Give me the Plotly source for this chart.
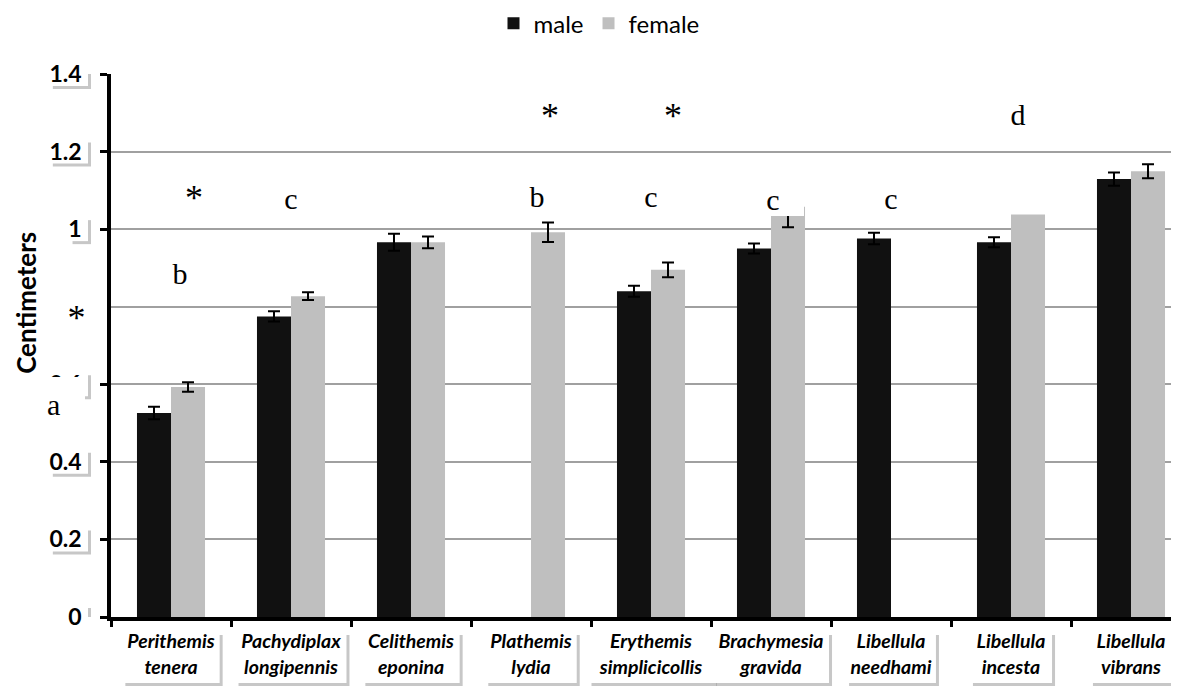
import plotly.graph_objects as go

# ---- data ----
species = ["Perithemis<br>tenera", "Pachydiplax<br>longipennis", "Celithemis<br>eponina",
           "Plathemis<br>lydia", "Erythemis<br>simplicicollis", "Brachymesia<br>gravida",
           "Libellula<br>needhami", "Libellula<br>incesta", "Libellula<br>vibrans"]
male = [0.526, 0.775, 0.966, None, 0.840, 0.950, 0.976, 0.966, 1.129]
male_err = [0.016, 0.013, 0.022, "NaN", 0.014, 0.013, 0.015, 0.013, 0.017]
female = [0.593, 0.827, 0.966, 0.992, 0.895, 1.058, None, 1.038, 1.149]
female_err = [0.012, 0.010, 0.015, 0.025, 0.019, 0.053, "NaN", "NaN", 0.018]
y_ticks = [0, 0.2, 0.4, 0.6, 0.8, 1.0, 1.2, 1.4]
y_title = "Centimeters"

# significance letters (text only)
sig_text = ["*", "b", "c", "*", "b", "*", "c", "c", "c", "d"]
# their placement (style): category index, value axis
sig_x = [0.194, 0.075, 0.998, 3.158, 3.05, 4.186, 3.998, 5.014, 5.998, 7.058]
sig_y = [1.081, 0.887, 1.080, 1.292, 1.085, 1.292, 1.085, 1.078, 1.080, 1.297]
# letters placed on top of the y tick labels (left of the axis)
left_text = ["*", "a"]
left_x = [-0.0323, -0.0435]
left_y = [0.776, 0.560]
left_w = [57, 36]
left_h = [44, 42]
left_align = ["center", "left"]

# ---- figure geometry (page has an 8px body margin) ----
FIG_W, FIG_H = 1171, 679
M_L, M_R, M_T, M_B = 103, 0, 66, 70
PLOT_W = FIG_W - M_L - M_R
PLOT_H = FIG_H - M_T - M_B
Y_MAX = 1.4
X_RANGE = [-0.5, 8.4]


def text_px(s, size):
    """rough width of a string in px (for the label boxes)"""
    w = 0.0
    for ch in s:
        if ch in "iljtfr.":
            w += 0.30
        elif ch in "mw":
            w += 0.78
        else:
            w += 0.52
    return w * size


fig = go.Figure()
fig.add_trace(go.Bar(
    name="male", x=species, y=male, marker=dict(color="#111111", line=dict(width=0)),
    error_y=dict(type="data", array=male_err, color="black", thickness=2, width=6, visible=True),
))
fig.add_trace(go.Bar(
    name="female", x=species, y=female, marker=dict(color="#bfbfbf", line=dict(width=0)),
    error_y=dict(type="data", array=female_err, color="black", thickness=2, width=6, visible=True),
))

# ---- label boxes with drop shadows (decoration behind the tick labels) ----
shapes = []
y_per_px = Y_MAX / PLOT_H
paper_per_px_x = 1.0 / PLOT_W
x_per_px = (X_RANGE[1] - X_RANGE[0]) / PLOT_W
paper_per_px_y = 1.0 / PLOT_H
SH = 3  # shadow offset px
SHADOW = "rgba(0,0,0,0.22)"
for v in y_ticks:
    lab = f"{v:g}"
    w = text_px(lab, 24) + 6
    x1 = -23 * paper_per_px_x
    x0 = x1 - w * paper_per_px_x
    y0, y1 = v - 12 * y_per_px, v + 12 * y_per_px
    shapes.append(dict(type="rect", xref="paper", yref="y", layer="below",
                       x0=x0 + SH * paper_per_px_x, x1=x1 + SH * paper_per_px_x,
                       y0=y0 - SH * y_per_px, y1=y1 - SH * y_per_px,
                       fillcolor=SHADOW, line=dict(width=0)))
    shapes.append(dict(type="rect", xref="paper", yref="y", layer="below",
                       x0=x0, x1=x1, y0=y0, y1=y1,
                       fillcolor="white", line=dict(width=0)))
for i, sp in enumerate(species):
    lines = sp.split("<br>")
    w = max(text_px(l, 19.5) for l in lines) + 8
    x0, x1 = i - w / 2 * x_per_px, i + w / 2 * x_per_px
    y1, y0 = -15 * paper_per_px_y, -66 * paper_per_px_y
    shapes.append(dict(type="rect", xref="x", yref="paper", layer="below",
                       x0=x0 + SH * x_per_px, x1=x1 + SH * x_per_px,
                       y0=y0 - SH * paper_per_px_y, y1=y1 - SH * paper_per_px_y,
                       fillcolor=SHADOW, line=dict(width=0)))
    shapes.append(dict(type="rect", xref="x", yref="paper", layer="below",
                       x0=x0, x1=x1, y0=y0, y1=y1,
                       fillcolor="white", line=dict(width=0)))

annotations = []
# y axis title (placed off-centre like the reference)
annotations.append(dict(
    text=f"<b>{y_title}</b>", textangle=-90, x=-85 * paper_per_px_x, y=0.81,
    xref="paper", yref="y", showarrow=False, xanchor="center", yanchor="middle",
    font=dict(family="Lato", size=26, color="black"),
))
for t, x, y in zip(sig_text, sig_x, sig_y):
    annotations.append(dict(
        text=t, x=x, y=y, xref="x", yref="y", showarrow=False,
        xanchor="center", yanchor="middle",
        font=dict(family="Liberation Serif", size=36 if t == "*" else 30, color="black"),
        bgcolor="white", width=62, height=34, borderpad=0, borderwidth=0,
    ))
for t, x, y, w, h, al in zip(left_text, left_x, left_y, left_w, left_h, left_align):
    annotations.append(dict(
        text=t, x=x, y=y, xref="paper", yref="y", showarrow=False,
        xanchor="center", yanchor="middle", align=al,
        font=dict(family="Liberation Serif", size=36 if t == "*" else 30, color="black"),
        bgcolor="white", width=w, height=h, borderpad=2, borderwidth=0, valign="bottom",
    ))

fig.update_layout(
    width=FIG_W, height=FIG_H,
    margin=dict(l=M_L, r=M_R, t=M_T, b=M_B, autoexpand=False),
    paper_bgcolor="white", plot_bgcolor="white",
    barmode="group", bargap=0.433, bargroupgap=0,
    font=dict(family="Lato", color="black"),
    showlegend=True,
    legend=dict(orientation="h", xref="container", yref="container",
                x=0.5047, xanchor="center", y=0.977, yanchor="middle",
                font=dict(family="Lato", size=24, color="black"),
                itemwidth=30, traceorder="normal"),
    annotations=annotations,
    shapes=shapes,
)
fig.update_xaxes(
    range=X_RANGE, showgrid=False, showline=True, linecolor="black", linewidth=4,
    ticks="outside", tickson="boundaries", ticklen=6, tickwidth=3, tickcolor="black",
    tickfont=dict(family="Lato", size=19.5, weight="bold", style="italic", color="black"),
    ticklabelstandoff=4, automargin=False,
)
fig.update_yaxes(
    range=[0, Y_MAX], tickvals=y_ticks, ticktext=[f"{v:g}" for v in y_ticks],
    showgrid=True, gridcolor="#a0a0a0", gridwidth=1.5,
    showline=True, linecolor="black", linewidth=3.5,
    ticks="outside", ticklen=7, tickwidth=3, tickcolor="black",
    tickfont=dict(family="Lato", size=23, weight="bold", color="black"),
    ticklabelstandoff=14, automargin=False,
    zeroline=False,
)

fig.write_html("out.html")
